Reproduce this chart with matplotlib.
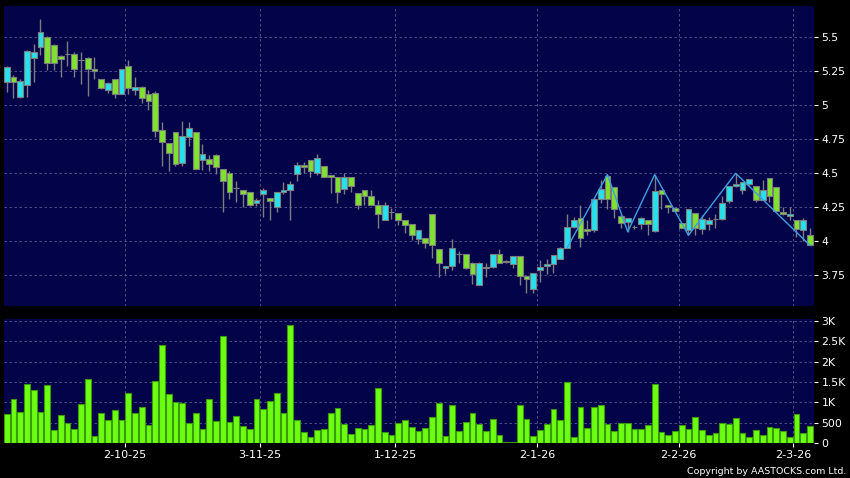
import matplotlib
matplotlib.use("Agg")
import matplotlib.pyplot as plt
import numpy as np

# daily OHLC, Sep 2025 - Mar 2026 (120 sessions)
opens = [5.17, 5.21, 5.06, 5.15, 5.35, 5.43, 5.50, 5.44, 5.36, 5.375,
         5.38, 5.33, 5.35, 5.267, 5.19, 5.11, 5.19, 5.08, 5.29, 5.11,
         5.135, 5.08, 5.09, 4.82, 4.72, 4.80, 4.578, 4.765, 4.80, 4.596,
         4.603, 4.632, 4.53, 4.50, 4.39, 4.375, 4.36, 4.278, 4.345, 4.32,
         4.25, 4.36, 4.375, 4.493, 4.559, 4.60, 4.50, 4.55, 4.485, 4.47,
         4.382, 4.47, 4.353, 4.375, 4.33, 4.27, 4.154, 4.218, 4.21, 4.16,
         4.125, 4.02, 4.022, 4.204, 3.94, 3.80, 3.82, 3.905, 3.903, 3.843,
         3.68, 3.80, 3.814, 3.903, 3.858, 3.83, 3.888, 3.748, 3.652, 3.79,
         3.815, 3.83, 3.873, 3.954, 4.105, 4.168, 4.093, 4.08, 4.314, 4.48,
         4.40, 4.186, 4.14, 4.107, 4.124, 4.16, 4.075, 4.375, 4.27, 4.245,
         4.131, 4.08, 4.21, 4.093, 4.124, 4.167, 4.164, 4.298, 4.409, 4.378,
         4.419, 4.41, 4.30, 4.466, 4.40, 4.217, 4.185, 4.16, 4.081, 4.044]
closes = [5.28, 5.17, 5.18, 5.40, 5.39, 5.54, 5.31, 5.31, 5.34, 5.375,
          5.27, 5.33, 5.265, 5.252, 5.13, 5.166, 5.08, 5.265, 5.13, 5.137,
          5.05, 5.03, 4.81, 4.73, 4.65, 4.57, 4.772, 4.83, 4.53, 4.64,
          4.571, 4.548, 4.44, 4.36, 4.39, 4.35, 4.265, 4.30, 4.375, 4.296,
          4.36, 4.375, 4.42, 4.56, 4.544, 4.515, 4.61, 4.47, 4.475, 4.36,
          4.47, 4.41, 4.27, 4.33, 4.27, 4.204, 4.265, 4.218, 4.16, 4.123,
          4.044, 4.08, 3.99, 3.97, 3.843, 3.821, 3.954, 3.905, 3.80, 3.762,
          3.843, 3.814, 3.903, 3.843, 3.85, 3.888, 3.748, 3.719, 3.77, 3.814,
          3.832, 3.90, 3.951, 4.105, 4.16, 4.027, 4.076, 4.314, 4.382, 4.314,
          4.24, 4.137, 4.168, 4.107, 4.168, 4.124, 4.372, 4.35, 4.25, 4.22,
          4.101, 4.24, 4.10, 4.167, 4.16, 4.167, 4.278, 4.41, 4.419, 4.439,
          4.456, 4.30, 4.375, 4.334, 4.22, 4.204, 4.204, 4.093, 4.154, 3.97]
highs = [5.29, 5.22, 5.19, 5.41, 5.45, 5.635, 5.51, 5.45, 5.37, 5.47,
         5.39, 5.39, 5.355, 5.355, 5.19, 5.17, 5.19, 5.27, 5.33, 5.21,
         5.14, 5.11, 5.107, 4.88, 4.72, 4.80, 4.884, 4.88, 4.80, 4.713,
         4.635, 4.64, 4.53, 4.517, 4.44, 4.38, 4.36, 4.32, 4.39, 4.32,
         4.36, 4.436, 4.44, 4.58, 4.58, 4.60, 4.64, 4.55, 4.485, 4.47,
         4.50, 4.47, 4.355, 4.375, 4.375, 4.30, 4.29, 4.248, 4.21, 4.16,
         4.125, 4.08, 4.022, 4.204, 3.94, 3.821, 4.015, 3.925, 3.903, 3.845,
         3.845, 3.843, 3.903, 3.94, 3.86, 3.888, 3.888, 3.748, 3.77, 3.86,
         3.873, 3.90, 3.96, 4.204, 4.18, 4.265, 4.16, 4.32, 4.45, 4.49,
         4.40, 4.20, 4.17, 4.12, 4.18, 4.16, 4.49, 4.375, 4.27, 4.25,
         4.131, 4.24, 4.21, 4.196, 4.18, 4.20, 4.33, 4.41, 4.50, 4.439,
         4.456, 4.41, 4.45, 4.466, 4.40, 4.25, 4.25, 4.16, 4.17, 4.10]
lows = [5.10, 5.05, 5.05, 5.06, 5.17, 5.37, 5.26, 5.26, 5.21, 5.29,
        5.21, 5.157, 5.07, 5.19, 5.12, 5.09, 5.05, 5.08, 5.08, 5.075,
        5.02, 4.965, 4.765, 4.555, 4.52, 4.555, 4.555, 4.70, 4.528, 4.524,
        4.517, 4.495, 4.217, 4.31, 4.29, 4.25, 4.26, 4.26, 4.18, 4.154,
        4.217, 4.35, 4.154, 4.44, 4.50, 4.47, 4.486, 4.47, 4.353, 4.28,
        4.345, 4.36, 4.235, 4.265, 4.265, 4.10, 4.154, 4.167, 4.123, 4.064,
        4.007, 3.983, 3.95, 3.88, 3.74, 3.762, 3.787, 3.837, 3.793, 3.685,
        3.68, 3.738, 3.80, 3.843, 3.84, 3.80, 3.682, 3.623, 3.623, 3.70,
        3.757, 3.767, 3.87, 3.95, 4.10, 3.958, 4.044, 4.07, 4.28, 4.24,
        4.17, 4.10, 4.07, 4.09, 4.09, 4.044, 4.07, 4.234, 4.21, 4.22,
        4.10, 4.044, 4.044, 4.057, 4.081, 4.10, 4.16, 4.28, 4.40, 4.35,
        4.41, 4.29, 4.30, 4.29, 4.22, 4.19, 4.16, 4.03, 4.0, 3.97]
# volume in thousands of shares
volumes = [717, 1075, 765, 1441, 1303, 765, 1417, 326, 684, 497,
           342, 961, 1564, 179, 749, 570, 814, 570, 1238, 749,
           880, 440, 1515, 2402, 1197, 1010, 977, 505, 749, 342,
           1075, 537, 2622, 521, 668, 423, 358, 1075, 831, 1034,
           1238, 749, 2883, 570, 285, 147, 326, 358, 749, 871,
           472, 220, 366, 342, 448, 1344, 277, 204, 505, 562,
           391, 309, 378, 655, 980, 190, 930, 310, 510, 740,
           480, 310, 600, 210, 20, 40, 930, 600, 180, 330,
           470, 830, 570, 1500, 160, 890, 380, 880, 930, 470,
           290, 490, 490, 350, 350, 440, 1450, 270, 210, 290,
           450, 350, 650, 320, 200, 260, 490, 480, 630, 240,
           150, 320, 210, 400, 370, 290, 150, 710, 240, 420]

# zigzag pivots (session index, price)
zz_idx = [83, 89, 92, 96, 101, 108, 119]
zz_px = [3.95, 4.49, 4.07, 4.49, 4.044, 4.50, 3.97]

date_idx = [18, 38, 58, 79, 100, 117]
date_labels = ['2-10-25', '3-11-25', '1-12-25', '2-1-26', '2-2-26', '2-3-26']
price_ticks = [3.75, 4, 4.25, 4.5, 4.75, 5, 5.25, 5.5]
vol_ticks = [0, 500, 1000, 1500, 2000, 2500, 3000]
vol_labels = ['0', '500', '1K', '1.5K', '2K', '2.5K', '3K']

BG = '#03034a'
GRID = '#5a5a90'
CYAN = '#26e0ee'
GREEN = '#7fe22e'
EDGE = '#7d7d7d'
VOLG = '#6cff12'
VOLEDGE = '#3a9a08'


def style(ax):
    ax.set_facecolor(BG)
    for s in ax.spines.values():
        s.set_visible(False)
    ax.yaxis.tick_right()
    ax.tick_params(axis='y', colors='white', labelsize=7.8, length=3, pad=2.5, width=0.8)
    ax.grid(True, color=GRID, linestyle=(0, (3, 3)), linewidth=0.6)
    ax.set_axisbelow(True)


def main():
    o = np.array(opens)
    c = np.array(closes)
    h = np.array(highs)
    l = np.array(lows)
    x = np.arange(len(o))
    up = c >= o

    fig = plt.figure(figsize=(8.5, 4.78), dpi=100, facecolor='black')
    ax = fig.add_axes([4 / 850, 1 - 306 / 478, 810 / 850, 300 / 478])
    axv = fig.add_axes([4 / 850, 1 - 443.3 / 478, 810 / 850, 124.3 / 478])

    # candles
    style(ax)
    ax.vlines(x, l, h, color=EDGE, linewidth=1, zorder=2)
    ax.bar(x, np.abs(c - o), bottom=np.minimum(o, c), width=0.85,
           color=np.where(up, CYAN, GREEN), edgecolor=EDGE, linewidth=0.8, zorder=3)
    ax.plot(zz_idx, zz_px, color='#3d9fe2', linewidth=1, zorder=4)
    ax.set_ylim(3.524, 5.730)
    ax.set_yticks(price_ticks)
    ax.set_yticklabels([f'{v:g}' for v in price_ticks])
    ax.set_xticks(np.array(date_idx) - 0.45)
    ax.tick_params(axis='x', length=0, labelbottom=False)
    ax.set_xlim(-0.4, 119.6)

    # volume
    style(axv)
    axv.bar(x, volumes, width=0.85, color=VOLG, edgecolor=VOLEDGE, linewidth=0.8, zorder=3)
    axv.set_ylim(0, 3040)
    axv.set_yticks(vol_ticks)
    axv.set_yticklabels(vol_labels)
    axv.set_xticks(np.array(date_idx) - 0.45)
    axv.set_xticklabels(date_labels)
    axv.tick_params(axis='x', colors='white', labelsize=8, length=3, pad=2, width=0.8)
    axv.set_xlim(-0.4, 119.6)

    fig.text(846 / 850, 1 - 476 / 478, 'Copyright by AASTOCKS.com Ltd.', color='white',
             fontsize=6.8, ha='right', va='bottom')

    fig.savefig('out.png', dpi=100, facecolor='black')


if __name__ == "__main__":
    main()
